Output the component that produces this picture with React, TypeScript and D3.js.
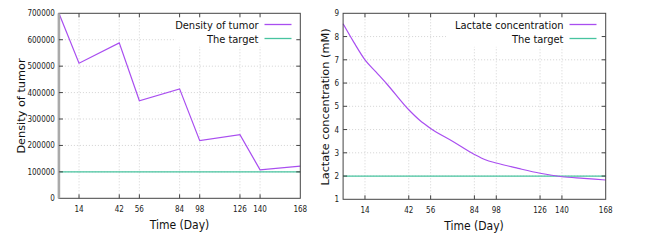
import React, { useRef, useEffect } from 'react';
import * as d3 from 'd3';

// x ticks shared by both panels (days)
const dayTicks = [14, 42, 56, 84, 98, 126, 140, 168];

// left panel: tumor density
const tumorDays = [0, 14, 42, 56, 84, 98, 126, 140, 168];
const tumorDensity = [700000, 511000, 588000, 369000, 414000, 218000, 241000, 108000, 122000];
const tumorTarget = 100000;
const tumorTicks = [0, 100000, 200000, 300000, 400000, 500000, 600000, 700000];

// right panel: lactate concentration
const lactateDays = [0, 7, 14, 21, 28, 42, 49, 56, 70, 84, 91, 98, 112, 126, 140, 154, 168];
const lactateValues = [8.55, 7.74, 7.0, 6.48, 5.96, 4.85, 4.4, 4.05, 3.5, 2.93, 2.7, 2.56, 2.33, 2.12, 1.97, 1.9, 1.83];
const lactateTarget = 2;
const lactateTicks = [1, 2, 3, 4, 5, 6, 7, 8, 9];

const PURPLE = '#a94ef0';
const GREEN = '#47c49f';
const COND = "'DejaVu Sans Condensed', 'DejaVu Sans', sans-serif";

interface PanelCfg {
  left: number; right: number; top: number; bottom: number;
  days: number[]; values: number[]; target: number;
  yDomain: [number, number]; yTicks: number[];
  yLabel: string; yLabelX: number; yLabelY: number; xLabelX: number;
  seriesName: string; legendText: number; legendBoxLeft: number;
  smooth: boolean; thickLeft: boolean;
}

const drawPanel = (svg: d3.Selection<SVGSVGElement, unknown, null, undefined>, c: PanelCfg) => {
  const x = d3.scaleLinear().domain([0, 168]).range([c.left, c.right]);
  const y = d3.scaleLinear().domain(c.yDomain).range([c.bottom, c.top]);
  const g = svg.append('g');

  // grid
  g.selectAll('.vg').data(dayTicks.slice(0, -1)).enter().append('line')
    .attr('x1', d => x(d)).attr('x2', d => x(d))
    .attr('y1', c.top).attr('y2', c.bottom)
    .attr('stroke', '#c8c8c8').attr('stroke-width', 0.8).attr('stroke-dasharray', '1,2');
  g.selectAll('.hg').data(c.yTicks.slice(1, -1)).enter().append('line')
    .attr('x1', c.left).attr('x2', c.right)
    .attr('y1', d => y(d)).attr('y2', d => y(d))
    .attr('stroke', '#c8c8c8').attr('stroke-width', 0.8).attr('stroke-dasharray', '1,2');

  // legend box hides grid
  g.append('rect').attr('x', c.legendBoxLeft).attr('y', c.top + 0.5)
    .attr('width', c.right - c.legendBoxLeft).attr('height', 33).attr('fill', '#fff');

  // target line
  g.append('line')
    .attr('x1', c.left).attr('x2', c.right)
    .attr('y1', y(c.target)).attr('y2', y(c.target))
    .attr('stroke', GREEN).attr('stroke-width', 1.3);

  // series
  const line = d3.line<number>()
    .x((_, i) => x(c.days[i]))
    .y(d => y(d))
    .curve(c.smooth ? d3.curveMonotoneX : d3.curveLinear);
  g.append('path').attr('d', line(c.values)).attr('fill', 'none')
    .attr('stroke', PURPLE).attr('stroke-width', 1.2);

  // border
  g.append('rect').attr('x', c.left).attr('y', c.top)
    .attr('width', c.right - c.left).attr('height', c.bottom - c.top)
    .attr('fill', 'none').attr('stroke', '#444').attr('stroke-width', 1);
  if (c.thickLeft) {
    g.append('line').attr('x1', c.left).attr('x2', c.left)
      .attr('y1', c.top).attr('y2', c.bottom)
      .attr('stroke', '#aaa').attr('stroke-width', 2.6);
  }

  // inward ticks, mirrored
  const tl = 4;
  dayTicks.slice(0, -1).forEach(d => {
    g.append('line').attr('x1', x(d)).attr('x2', x(d)).attr('y1', c.bottom).attr('y2', c.bottom - tl).attr('stroke', '#444');
    g.append('line').attr('x1', x(d)).attr('x2', x(d)).attr('y1', c.top).attr('y2', c.top + tl).attr('stroke', '#444');
  });
  c.yTicks.slice(1, -1).forEach(d => {
    g.append('line').attr('x1', c.left).attr('x2', c.left + tl).attr('y1', y(d)).attr('y2', y(d)).attr('stroke', '#444');
    g.append('line').attr('x1', c.right).attr('x2', c.right - tl).attr('y1', y(d)).attr('y2', y(d)).attr('stroke', '#444');
  });

  // tick labels
  g.selectAll('.xt').data(dayTicks).enter().append('text')
    .attr('x', d => x(d)).attr('y', c.bottom + 14)
    .attr('text-anchor', 'middle').attr('font-family', COND).attr('font-size', 8)
    .attr('fill', '#222').text(d => String(d));
  g.selectAll('.yt').data(c.yTicks).enter().append('text')
    .attr('x', c.left - 4).attr('y', d => y(d) + 3)
    .attr('text-anchor', 'end').attr('font-family', COND).attr('font-size', 8)
    .attr('fill', '#222').text(d => String(d));

  // axis labels
  g.append('text').attr('x', c.xLabelX).attr('y', c.bottom + 31)
    .attr('text-anchor', 'middle').attr('font-family', COND).attr('font-size', 12)
    .attr('fill', '#111').text('Time (Day)');
  g.append('text').attr('transform', `translate(${c.yLabelX},${c.yLabelY}) rotate(-90)`)
    .attr('text-anchor', 'middle').attr('font-family', "'DejaVu Sans', sans-serif").attr('font-size', 11.3)
    .attr('fill', '#111').text(c.yLabel);

  // legend
  const rows = [
    { name: c.seriesName, color: PURPLE, dy: 24.5 },
    { name: 'The target', color: GREEN, dy: 38.5 },
  ];
  rows.forEach(r => {
    g.append('text').attr('x', c.legendText).attr('y', r.dy + 4)
      .attr('text-anchor', 'end').attr('font-family', COND).attr('font-size', 11)
      .attr('fill', '#111').text(r.name);
    g.append('line').attr('x1', c.legendText + 6).attr('x2', c.legendText + 33)
      .attr('y1', r.dy).attr('y2', r.dy).attr('stroke', r.color).attr('stroke-width', 1.3);
  });
};

const App: React.FC = () => {
  const ref = useRef<SVGSVGElement | null>(null);

  useEffect(() => {
    if (!ref.current) return;
    const svg = d3.select(ref.current);
    svg.selectAll('*').remove();
    svg.append('rect').attr('width', 653).attr('height', 246).attr('fill', '#fff');

    drawPanel(svg, {
      left: 58.9, right: 300.3, top: 13.3, bottom: 198.3,
      days: tumorDays, values: tumorDensity, target: tumorTarget,
      yDomain: [0, 700000], yTicks: tumorTicks,
      yLabel: 'Density of tumor', yLabelX: 24.5, yLabelY: 106, xLabelX: 179.5,
      seriesName: 'Density of tumor', legendText: 258.5, legendBoxLeft: 176,
      smooth: false, thickLeft: true,
    });
    drawPanel(svg, {
      left: 343.1, right: 605.7, top: 13.3, bottom: 199.3,
      days: lactateDays, values: lactateValues, target: lactateTarget,
      yDomain: [1, 9], yTicks: lactateTicks,
      yLabel: 'Lactate concentration (mM)', yLabelX: 328.5, yLabelY: 107, xLabelX: 474,
      seriesName: 'Lactate concentration', legendText: 563.5, legendBoxLeft: 446,
      smooth: true, thickLeft: false,
    });
  }, []);

  return <svg ref={ref} width={653} height={246} style={{ position: 'absolute', left: 0, top: 0 }}></svg>;
};

export default App;
